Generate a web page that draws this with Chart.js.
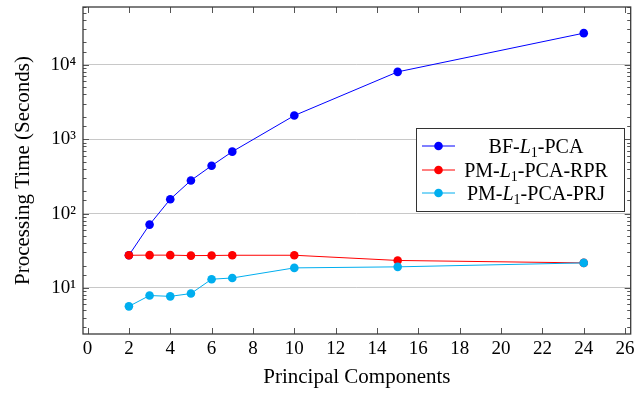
<!DOCTYPE html>
<html><head><meta charset="utf-8">
<script src="https://cdn.jsdelivr.net/npm/chart.js@4/dist/chart.umd.min.js"></script>
<style>html,body{margin:0;padding:0;background:#fff}#wrap{width:635px;height:393px}</style>
</head><body><div id="wrap"><canvas id="c" width="635" height="393"></canvas></div>
<script>
// ---- data ----
const components = [2, 3, 4, 5, 6, 7, 10, 15, 24];
const bfL1PCA   = [27.5, 71, 156, 279, 440, 680, 2080, 8050, 26700];
const pmL1RPR   = [27.5, 27.6, 27.6, 27.2, 27.3, 27.5, 27.5, 23.4, 21.7];
const pmL1PRJ   = [5.65, 7.9, 7.7, 8.4, 13.1, 13.6, 18.6, 19.2, 21.7];
const seriesNames = ['BF-L1-PCA', 'PM-L1-PCA-RPR', 'PM-L1-PCA-PRJ'];
const xTickValues = [0, 2, 4, 6, 8, 10, 12, 14, 16, 18, 20, 22, 24, 26];
const yMajorValues = [10, 100, 1000, 10000];
const yMajorLabels = ['10\u00B9', '10\u00B2', '10\u00B3', '10\u2074'];
const xTitle = 'Principal Components';
const yTitle = 'Processing Time (Seconds)';

const colors = ['#0000ff', '#ff0000', '#00aeef'];
const FONT = "'Liberation Serif', 'Times New Roman', serif";
Chart.defaults.font.family = FONT;
Chart.defaults.color = '#000';

function pts(ys) { return components.map((x, i) => ({x: x, y: ys[i]})); }
function isMajor(v) { const l = Math.log10(v); return Math.abs(l - Math.round(l)) < 1e-9; }

const frameTicks = {
  id: 'frameTicks',
  afterDraw(chart) {
    const ctx = chart.ctx, a = chart.chartArea;
    const xs = chart.scales.x, ys = chart.scales.y;
    ctx.save();
    ctx.strokeStyle = '#555';
    ctx.lineWidth = 1;
    ctx.beginPath();
    ys.ticks.forEach(t => {
      const p = Math.round(ys.getPixelForValue(t.value)) + 0.5;
      if (p < a.top || p > a.bottom) return;
      const len = isMajor(t.value) ? 6 : 3.5;
      ctx.moveTo(a.left, p); ctx.lineTo(a.left + len, p);
      ctx.moveTo(a.right, p); ctx.lineTo(a.right - len, p);
    });
    xs.ticks.forEach(t => {
      const p = Math.round(xs.getPixelForValue(t.value)) + 0.5;
      ctx.moveTo(p, a.bottom); ctx.lineTo(p, a.bottom - 6);
      ctx.moveTo(p, a.top); ctx.lineTo(p, a.top + 6);
    });
    ctx.stroke();
    ctx.strokeStyle = '#3a3a3a';
    ctx.lineWidth = 1.3;
    ctx.strokeRect(a.left, a.top, a.right - a.left, a.bottom - a.top);
    ctx.restore();
  }
};

const customLegend = {
  id: 'customLegend',
  afterDraw(chart) {
    const ctx = chart.ctx;
    const box = {l: 416.5, t: 128.5, r: 624.5, b: 211.5};
    ctx.save();
    ctx.fillStyle = '#fff';
    ctx.fillRect(box.l, box.t, box.r - box.l, box.b - box.t);
    ctx.strokeStyle = '#333';
    ctx.lineWidth = 1;
    ctx.strokeRect(box.l, box.t, box.r - box.l, box.b - box.t);
    const rowY = [146, 170, 193];
    const textCx = 536;
    seriesNames.forEach((name, i) => {
      const y = rowY[i];
      ctx.strokeStyle = colors[i]; ctx.lineWidth = 1;
      ctx.beginPath(); ctx.moveTo(422, y); ctx.lineTo(455, y); ctx.stroke();
      ctx.fillStyle = colors[i];
      ctx.beginPath(); ctx.arc(438.5, y, 4.3, 0, Math.PI * 2); ctx.fill();
      const k = name.indexOf('L1');
      const pre = name.slice(0, k), post = name.slice(k + 2);
      const fN = '20px ' + FONT, fI = 'italic 20px ' + FONT, fS = '14px ' + FONT;
      ctx.font = fN; const wPre = ctx.measureText(pre).width, wPost = ctx.measureText(post).width;
      ctx.font = fI; const wL = ctx.measureText('L').width;
      ctx.font = fS; const w1 = ctx.measureText('1').width;
      let x = textCx - (wPre + wL + w1 + wPost) / 2;
      const base = y + 7;
      ctx.fillStyle = '#000'; ctx.textBaseline = 'alphabetic'; ctx.textAlign = 'left';
      ctx.font = fN; ctx.fillText(pre, x, base); x += wPre;
      ctx.font = fI; ctx.fillText('L', x, base); x += wL;
      ctx.font = fS; ctx.fillText('1', x, base + 3.5); x += w1;
      ctx.font = fN; ctx.fillText(post, x, base);
    });
    ctx.restore();
  }
};

const mk = (label, data, i, order) => ({
  label, data: pts(data), borderColor: colors[i], backgroundColor: colors[i],
  pointBackgroundColor: colors[i], pointBorderColor: colors[i], pointRadius: 4.3, pointBorderWidth: 0,
  borderWidth: 1, tension: 0, order
});

new Chart(document.getElementById('c'), {
  type: 'line',
  data: { datasets: [
    mk(seriesNames[0], bfL1PCA, 0, 3),
    mk(seriesNames[1], pmL1RPR, 1, 2),
    mk(seriesNames[2], pmL1PRJ, 2, 1)
  ]},
  options: {
    responsive: false, animation: false, devicePixelRatio: 1,
    layout: { padding: { left: 0, right: 4, top: 7, bottom: 0 } },
    plugins: { legend: { display: false }, tooltip: { enabled: false } },
    scales: {
      x: {
        type: 'linear', min: -0.22, max: 26.27,
        afterBuildTicks: s => { s.ticks = xTickValues.map(v => ({value: v})); },
        afterFit: s => { s.height = 59; s.paddingLeft = 0; s.paddingRight = 0; },
        grid: { display: false, drawTicks: false },
        border: { display: false },
        ticks: { font: { size: 19 }, padding: 4, maxRotation: 0, autoSkip: false, color: '#000' },
        title: { display: true, text: xTitle, font: { size: 21 }, padding: 3, color: '#000' }
      },
      y: {
        type: 'logarithmic', min: 2.4, max: 60000,
        afterFit: s => { s.width = 83; s.paddingTop = 0; s.paddingBottom = 0; },
        grid: {
          drawTicks: false,
          color: c => (c.tick && isMajor(c.tick.value)) ? '#c8c8c8' : 'rgba(0,0,0,0)',
          lineWidth: 1
        },
        border: { display: false },
        ticks: {
          autoSkip: false, font: { size: 19, lineHeight: 0.5 }, padding: 7, color: '#000',
          callback: v => { const i = yMajorValues.findIndex(m => Math.abs(m - v) < 1e-6 * m); return i >= 0 ? yMajorLabels[i] : ''; }
        },
        title: { display: true, text: yTitle, font: { size: 21 }, padding: 11, color: '#000' }
      }
    }
  },
  plugins: [frameTicks, customLegend]
});
</script>
</body></html>
